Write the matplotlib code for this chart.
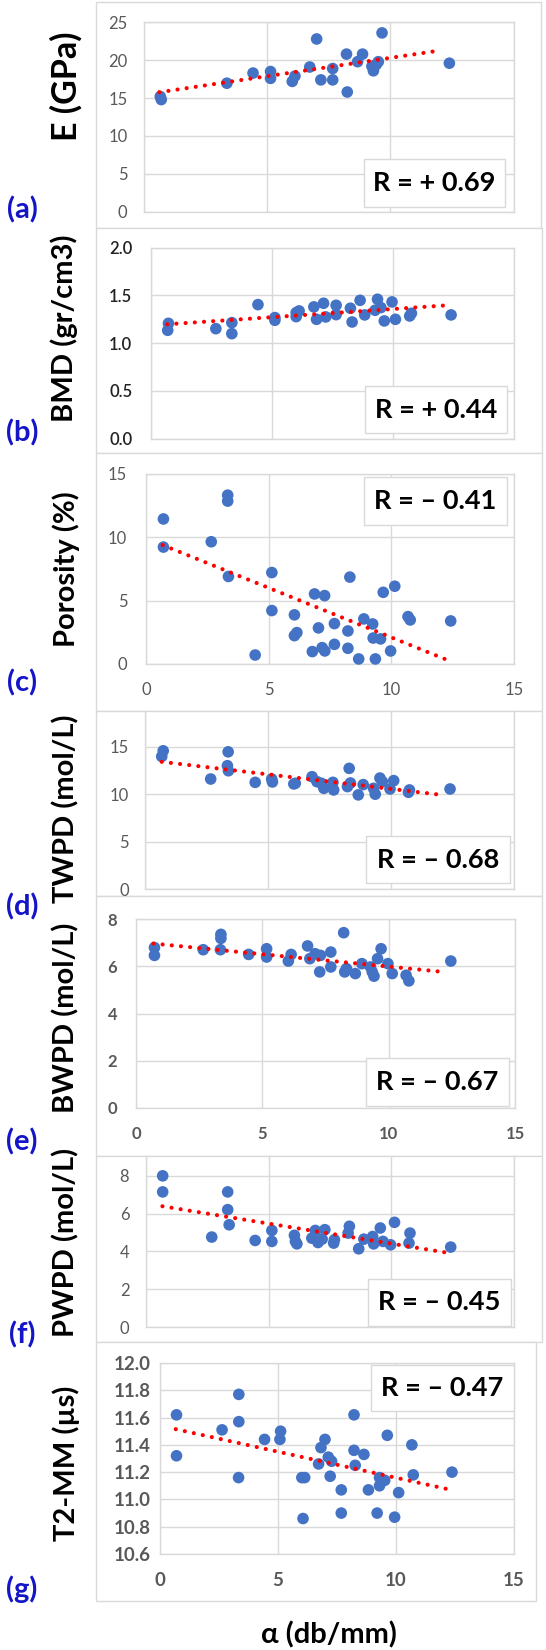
import matplotlib
matplotlib.use('Agg')
import matplotlib.pyplot as plt
from matplotlib.patches import Rectangle

plt.rcParams['font.family'] = ['Lato', 'DejaVu Sans']

# ---------------- data ----------------
alpha_E = [0.68, 0.72, 3.38, 4.44, 5.15, 5.15, 6.03, 6.14, 6.74, 7.02, 7.19, 7.67, 7.67,
           8.23, 8.26, 8.68, 8.88, 9.26, 9.32, 9.43, 9.52, 9.67, 12.4]
E_GPa = [15.2, 14.8, 16.96, 18.3, 18.5, 17.6, 17.2, 17.9, 19.1, 22.8, 17.4, 17.4, 18.9,
         20.8, 15.8, 19.8, 20.8, 19.2, 18.6, 19.4, 19.8, 23.6, 19.6]

alpha_BMD = [0.72, 0.69, 2.68, 3.34, 3.34, 4.42, 5.12, 5.12, 6.0, 6.12, 6.0, 6.73, 6.84,
             7.13, 7.22, 7.65, 7.65, 8.24, 8.31, 8.64, 8.83, 9.26, 9.36, 9.5, 9.64, 9.96,
             10.1, 10.69, 10.76, 12.4]
BMD = [1.206, 1.133, 1.150, 1.213, 1.098, 1.402, 1.266, 1.238, 1.318, 1.336, 1.276, 1.378,
       1.248, 1.416, 1.273, 1.395, 1.297, 1.364, 1.220, 1.447, 1.294, 1.343, 1.458, 1.371,
       1.231, 1.430, 1.248, 1.283, 1.311, 1.294]

alpha_por = [0.71, 0.71, 2.66, 3.33, 3.33, 3.36, 4.45, 5.13, 5.13, 6.05, 6.05, 6.15, 6.78,
             6.87, 7.03, 7.18, 7.28, 7.29, 7.68, 7.68, 8.23, 8.23, 8.31, 8.67, 8.88, 9.24,
             9.26, 9.35, 9.56, 9.67, 9.97, 10.14, 10.68, 10.77, 12.42]
porosity = [11.45, 9.23, 9.65, 13.33, 12.86, 6.91, 0.71, 7.22, 4.22, 3.88, 2.24, 2.48, 0.98,
            5.53, 2.85, 1.29, 5.4, 1.03, 3.19, 1.55, 2.61, 1.24, 6.86, 0.40, 3.56, 3.16,
            2.05, 0.40, 1.98, 5.66, 1.03, 6.14, 3.74, 3.48, 3.40]

alpha_TWPD = [0.74, 0.68, 2.67, 3.38, 3.35, 3.39, 4.48, 5.15, 5.18, 6.05, 6.11, 6.79, 6.99,
              7.17, 7.27, 7.64, 7.67, 8.30, 8.35, 8.23, 8.67, 8.87, 9.29, 9.36, 9.55, 9.65,
              9.96, 10.11, 10.71, 10.75, 12.4]
TWPD = [14.55, 13.95, 11.58, 14.44, 12.98, 12.45, 11.23, 11.58, 11.27, 11.06, 11.13, 11.82,
        11.3, 11.13, 10.6, 11.23, 10.43, 12.7, 11.16, 10.78, 9.91, 10.99, 10.6, 9.98, 11.68,
        11.3, 10.53, 11.41, 10.18, 10.43, 10.53]

alpha_BWPD = [0.73, 0.73, 2.66, 3.36, 3.36, 3.34, 4.46, 5.17, 5.17, 6.03, 6.14, 6.79, 6.88,
              7.09, 7.27, 7.30, 7.71, 7.71, 8.22, 8.26, 8.33, 8.68, 8.94, 9.28, 9.35, 9.42,
              9.56, 9.70, 9.97, 10.14, 10.69, 10.80, 12.46]
BWPD = [6.79, 6.46, 6.70, 7.35, 7.18, 6.70, 6.50, 6.74, 6.39, 6.22, 6.50, 6.86, 6.32, 6.53,
        5.76, 6.46, 6.60, 5.97, 7.42, 5.76, 5.90, 5.69, 6.11, 5.97, 5.76, 5.58, 6.32, 6.74,
        6.11, 5.69, 5.62, 5.38, 6.22]

alpha_PWPD = [0.68, 0.68, 3.33, 3.33, 3.39, 2.68, 4.45, 5.13, 5.13, 6.05, 6.09, 6.15, 6.76,
              6.90, 7.01, 7.18, 7.29, 7.65, 7.68, 8.29, 8.24, 8.67, 8.88, 9.24, 9.28, 9.55,
              9.66, 9.97, 10.13, 10.76, 10.72, 12.42]
PWPD = [8.0, 7.15, 7.15, 6.21, 5.41, 4.76, 4.58, 5.11, 4.53, 4.85, 4.53, 4.40, 4.70, 5.11,
        4.47, 4.65, 5.15, 4.44, 4.62, 5.33, 4.97, 4.14, 4.65, 4.79, 4.40, 5.24, 4.53, 4.35,
        5.54, 4.97, 4.44, 4.23]

alpha_T2 = [0.72, 3.36, 8.24, 0.72, 2.65, 3.36, 3.35, 4.45, 5.13, 5.10, 6.03, 6.15, 6.08,
            6.74, 6.84, 7.01, 7.15, 7.29, 7.23, 7.70, 7.70, 8.24, 8.29, 8.66, 8.85, 9.22,
            9.32, 9.32, 9.54, 9.65, 9.96, 10.13, 10.69, 10.75, 12.39]
T2MM = [11.62, 11.77, 11.62, 11.32, 11.51, 11.57, 11.16, 11.44, 11.50, 11.44, 11.16, 11.16,
        10.86, 11.26, 11.38, 11.44, 11.31, 11.28, 11.17, 11.07, 10.90, 11.36, 11.25, 11.33,
        11.07, 10.90, 11.16, 11.10, 11.14, 11.47, 10.87, 11.05, 11.40, 11.18, 11.20]

# trend-line end points
trend_x = {'a': [0.64, 12.06], 'b': [0.67, 12.26], 'c': [0.68, 12.38], 'd': [0.68, 12.05],
           'e': [0.69, 12.17], 'f': [0.67, 12.38], 'g': [0.69, 12.35]}
trend_y = {'a': [15.77, 21.3], 'b': [1.196, 1.395], 'c': [9.39, 0.24], 'd': [13.39, 9.91],
           'e': [6.96, 5.76], 'f': [6.39, 3.91], 'g': [11.515, 11.07]}

r_labels = {'a': 'R = + 0.69', 'b': 'R = + 0.44', 'c': 'R = \u2013 0.41', 'd': 'R = \u2013 0.68',
            'e': 'R = \u2013 0.67', 'f': 'R = \u2013 0.45', 'g': 'R = \u2013 0.47'}
y_labels = {'a': 'E (GPa)', 'b': 'BMD (gr/cm3)', 'c': 'Porosity (%)', 'd': 'TWPD (mol/L)',
            'e': 'BWPD (mol/L)', 'f': 'PWPD (mol/L)', 'g': 'T2-MM (\u00b5s)'}
x_ticks = [0, 5, 10, 15]
y_ticks = {'a': [0, 5, 10, 15, 20, 25], 'b': [0.0, 0.5, 1.0, 1.5, 2.0],
           'c': [0, 5, 10, 15], 'd': [0, 5, 10, 15], 'e': [0, 2, 4, 6, 8],
           'f': [0, 2, 4, 6, 8], 'g': [10.6, 10.8, 11.0, 11.2, 11.4, 11.6, 11.8, 12.0]}
x_label = '\u03b1 (db/mm)'

# ---------------- layout (pixels) ----------------
W, H = 546, 1650
fig = plt.figure(figsize=(W / 100, H / 100), dpi=100)
GRID = '#d9d9d9'
BLUE = '#4472C4'
TICKC = '#595959'


def frame(x0, y0, x1, y1):
    fig.add_artist(Rectangle((x0 / W, 1 - y1 / H), (x1 - x0) / W, (y1 - y0) / H,
                             transform=fig.transFigure, fc='white', ec=GRID, lw=1.0,
                             zorder=-2))


def rbox(x0, y0, x1, y1, text):
    fig.add_artist(Rectangle((x0 / W, 1 - y1 / H), (x1 - x0) / W, (y1 - y0) / H,
                             transform=fig.transFigure, fc='white', ec=GRID, lw=1.0,
                             zorder=5))
    fig.text((x0 + x1) / 2 / W, 1 - (y0 + y1) / 2 / H, text, ha='center', va='center',
             fontsize=19.5, fontweight='bold', color='black', zorder=6)


# panel frames
frame(96, 2, 541, 228)
frame(96, 228, 542, 453)
frame(96, 453, 542, 711)
frame(96, 711, 542, 896)
frame(96, 896, 542, 1156)
frame(96, 1156, 542, 1342)
frame(96, 1342, 536, 1601)

panels = [
    # key, x, y, plot left, right, top px, bottom px, ylim, show xlabels, tick style, fmt
    ('a', alpha_E, E_GPa, 143.5, 513.5, 22.3, 211.7, (0, 25), False, (12, TICKC, 'normal'), '%d'),
    ('b', alpha_BMD, BMD, 151, 514, 247.5, 438.5, (0, 2.0), False, (12, '#222222', 'semibold'), '%.1f'),
    ('c', alpha_por, porosity, 146, 514, 474, 664, (0, 15), True, (12, TICKC, 'normal'), '%d'),
    ('d', alpha_TWPD, TWPD, 145, 514, 711, 889, (0, 18.74), False, (12, TICKC, 'normal'), '%d'),
    ('e', alpha_BWPD, BWPD, 136, 515, 919, 1108, (0, 8), True, (12, TICKC, 'bold'), '%d'),
    ('f', alpha_PWPD, PWPD, 146, 514, 1156, 1327, (0, 9.05), False, (12, TICKC, 'normal'), '%d'),
    ('g', alpha_T2, T2MM, 159.5, 513.6, 1363, 1554, (10.6, 12.0), True, (13.5, TICKC, 'bold'), '%.1f'),
]

rboxes = {'a': (364, 159, 505, 207), 'b': (365, 386, 507, 433), 'c': (364, 477, 507, 525),
          'd': (366, 836, 510, 883), 'e': (366, 1058, 509, 1106), 'f': (368, 1279, 511, 1326),
          'g': (371, 1365, 514, 1411)}
ylabel_pos = {'a': (66, 86), 'b': (64, 328), 'c': (66, 569), 'd': (66, 809),
              'e': (66, 1018), 'f': (66, 1242), 'g': (66, 1463)}
ylabel_size = {'a': 24.5, 'b': 21, 'c': 21, 'd': 21, 'e': 21, 'f': 21, 'g': 21}
letter_pos = {'a': 210, 'b': 433, 'c': 683, 'd': 907, 'e': 1142, 'f': 1335, 'g': 1589}
ypad = {'a': 11.5, 'b': 13.5, 'c': 13.5, 'd': 11.5, 'e': 13.5, 'f': 12, 'g': 6}

for key, xs, ys, x0, x1, yt, yb, ylim, showx, (tsize, tcol, tw), fmt in panels:
    ax = fig.add_axes([x0 / W, 1 - yb / H, (x1 - x0) / W, (yb - yt) / H])
    ax.set_facecolor('none')
    ax.set_xlim(0, 15)
    ax.set_ylim(*ylim)
    ax.set_xticks(x_ticks)
    ax.set_yticks(y_ticks[key])
    ax.yaxis.set_major_formatter(matplotlib.ticker.FormatStrFormatter(fmt))
    ax.grid(True, color=GRID, lw=1.0, zorder=0)
    ax.set_axisbelow(True)
    for s in ax.spines.values():
        s.set_color(GRID)
        s.set_linewidth(1.0)
    if key in ('d', 'f'):
        ax.spines['top'].set_visible(False)
    ax.tick_params(axis='both', length=0, labelsize=tsize, labelcolor=tcol)
    ax.tick_params(axis='y', pad=ypad[key])
    ax.tick_params(axis='x', pad=13)
    if not showx:
        ax.tick_params(axis='x', labelbottom=False)
    for lab in ax.get_yticklabels() + ax.get_xticklabels():
        lab.set_fontweight(tw)
    ax.scatter(xs, ys, s=70, color=BLUE, edgecolors='none', zorder=3, clip_on=False)
    ax.plot(trend_x[key], trend_y[key], color='red', lw=3.0,
            linestyle=(0, (0.01, 2.2)), dash_capstyle='round', zorder=4)
    rbox(*rboxes[key], r_labels[key])
    lx, ly = ylabel_pos[key]
    fig.text(lx / W, 1 - ly / H, y_labels[key], rotation=90, ha='center', va='center',
             fontsize=ylabel_size[key], fontweight='bold', color='black')
    fig.text(22 / W, 1 - letter_pos[key] / H, '(%s)' % key, ha='center', va='center',
             fontsize=21, fontweight='bold', color='#1414C8')

fig.text(329 / W, 1 - 1635 / H, x_label, ha='center', va='center', fontsize=21,
         fontweight='bold', color='black')

fig.savefig('out.png', dpi=100)
